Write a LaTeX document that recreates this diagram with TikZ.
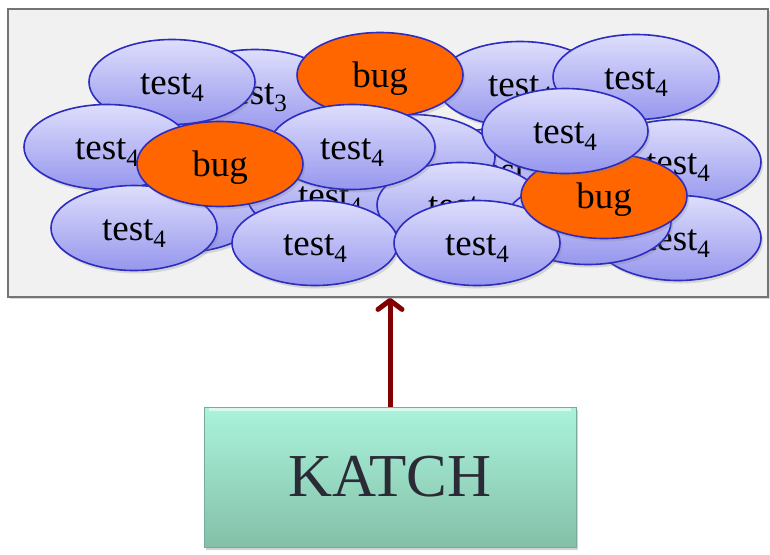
\documentclass[tikz,border=0pt]{standalone}
\usepackage{fontspec}
\setmainfont{Liberation Serif}
\usetikzlibrary{shapes.geometric,shadows,arrows.meta}
\definecolor{ellTop}{HTML}{DEDEFC}
\definecolor{ellBot}{HTML}{9696EE}
\definecolor{ellLine}{HTML}{2C2CC0}
\definecolor{bugFill}{HTML}{FF6600}
\definecolor{frameFill}{HTML}{F1F1F1}
\definecolor{frameLine}{HTML}{747474}
\definecolor{katchTop}{HTML}{ABF3DC}
\definecolor{katchBot}{HTML}{84C0A8}
\definecolor{katchLine}{HTML}{78AC98}
\definecolor{katchText}{HTML}{2B2B36}
\definecolor{arrowRed}{HTML}{820000}
\newcommand{\tsub}[1]{\raisebox{-7pt}{\fontsize{25}{25}\selectfont #1}}
\tikzset{
 blob/.style={ellipse, draw=ellLine, line width=1.6pt, minimum width=166pt, minimum height=85pt, inner sep=0pt,
   text height=24pt, text depth=0pt,
   font=\fontsize{37}{37}\selectfont, drop shadow={opacity=0.25, shadow xshift=2pt, shadow yshift=-3pt}},
 testblob/.style={blob, top color=ellTop, bottom color=ellBot},
 bugblob/.style={blob, fill=bugFill},
 framebox/.style={rectangle, draw=frameLine, fill=frameFill, line width=1.8pt, minimum width=760pt, minimum height=288pt,
   inner sep=0pt, drop shadow={opacity=0.3, shadow xshift=1.5pt, shadow yshift=-1.5pt}},
 katchbox/.style={rectangle, draw=katchLine, line width=0.8pt, top color=katchTop, bottom color=katchBot,
   minimum width=372pt, minimum height=140pt, inner sep=0pt, text=katchText, font=\fontsize{61}{61}\selectfont,
   text height=38pt, text depth=0pt,
   drop shadow={opacity=0.35, shadow xshift=2pt, shadow yshift=-3pt}},
 link/.style={draw=arrowRed, line width=5pt, -{Straight Barb[length=9pt,width=24pt,line cap=round,line join=round]}},
}
\begin{document}
\begin{tikzpicture}[x=1pt,y=-1pt]
\useasboundingbox (0,0) rectangle (770,554);
\node[framebox] (frame) at (388,153) {};
% back layer
\node[testblob] (t3) at (255,92) {test\tsub{3}};
\node[testblob] (hc) at (180,210) {};
\node[testblob] (htop) at (520,84) {test\tsub{4}};
\node[testblob] (tr) at (636,77) {test\tsub{4}};
\node[testblob] (rb) at (678,162) {test\tsub{4}};
\node[testblob] (br) at (678,238) {test\tsub{4}};
\node[testblob] (ha) at (506,170) {test\tsub{4}};
\node[testblob] (hb) at (412,157) {};
\node[testblob] (hd) at (330,195) {test\tsub{4}};
\node[testblob] (he) at (460,205) {test\tsub{4}};
\node[testblob] (hf) at (588,222) {};
% front layer
\node[testblob] (tl) at (172,82) {test\tsub{4}};
\node[testblob] (lm) at (107,147) {test\tsub{4}};
\node[testblob] (bl) at (134,228) {test\tsub{4}};
\node[bugblob] (bugtop) at (380,75) {bug};
\node[testblob] (ct) at (352,147) {test\tsub{4}};
\node[bugblob] (bugleft) at (220,164) {bug};
\node[testblob] (bc) at (315,243) {test\tsub{4}};
\node[testblob] (bm) at (477,243) {test\tsub{4}};
\node[bugblob] (bugright) at (604,196) {bug};
\node[testblob] (mr) at (565,131) {test\tsub{4}};
% KATCH
\node[katchbox] (katch) at (390,477) {KATCH};
\draw[white, opacity=0.55, line width=3pt] ([xshift=5pt,yshift=-3pt]katch.north west) -- ([xshift=-5pt,yshift=-3pt]katch.north east);
\draw[link] (katch.north) -- (katch.north |- frame.south);
\end{tikzpicture}
\end{document}
